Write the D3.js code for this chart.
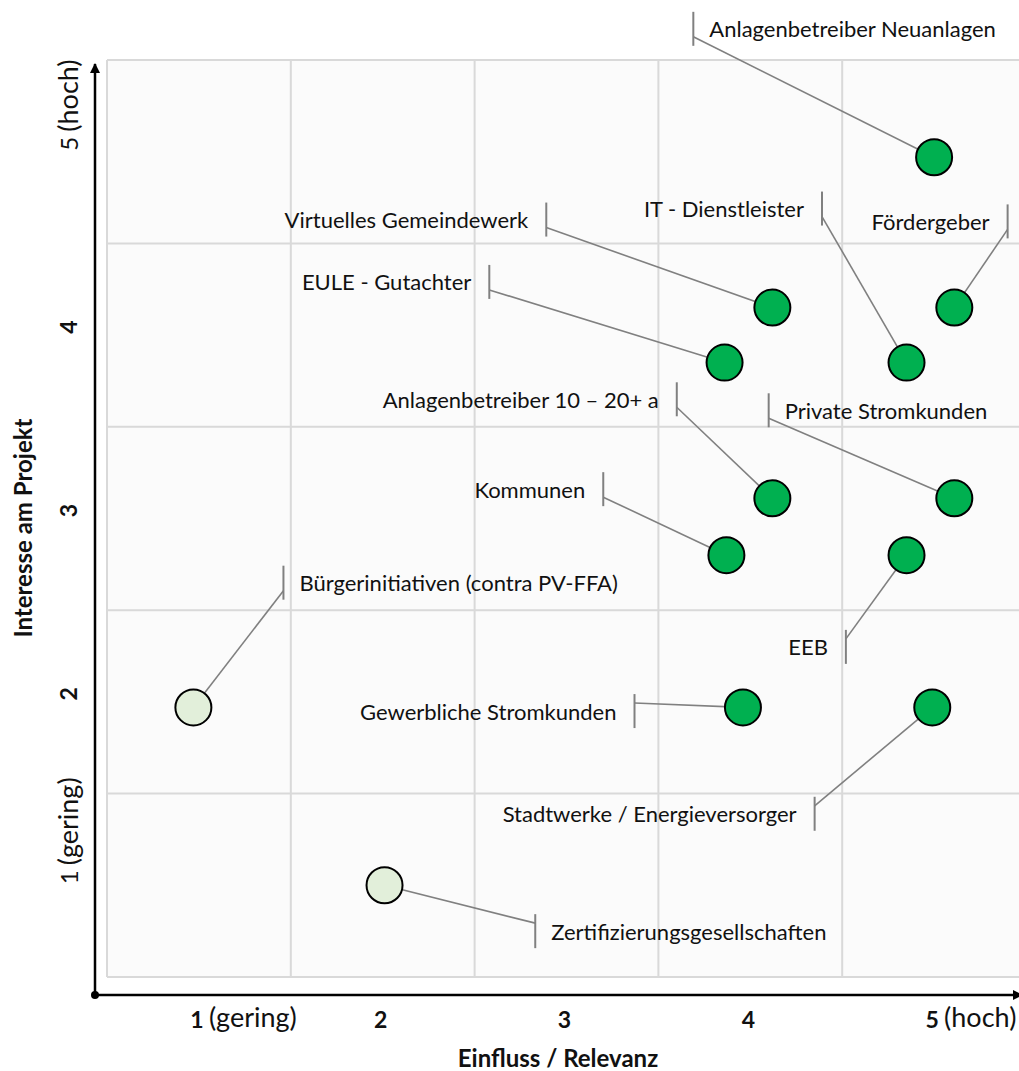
<!DOCTYPE html>
<html>
<head>
<meta charset="utf-8">
<script src="https://cdn.jsdelivr.net/npm/d3@7"></script>
<style>
  html, body { margin: 0; padding: 0; background: #ffffff; }
  svg { display: block; }
  text { font-family: Lato, "Open Sans", sans-serif; fill: #111111; }
</style>
</head>
<body>
<div id="chart"></div>
<script>
// ---- data ----
const categories = [
  "Anlagenbetreiber Neuanlagen",
  "Virtuelles Gemeindewerk",
  "EULE - Gutachter",
  "IT - Dienstleister",
  "Fördergeber",
  "Anlagenbetreiber 10 – 20+ a",
  "Private Stromkunden",
  "Kommunen",
  "Bürgerinitiativen (contra PV-FFA)",
  "EEB",
  "Gewerbliche Stromkunden",
  "Stadtwerke / Energieversorger",
  "Zertifizierungsgesellschaften"
];
const influence = [5.00, 4.12, 3.86, 4.85, 5.11, 4.12, 5.11, 3.87, 0.97, 4.85, 3.96, 4.99, 2.01];
const interest  = [4.97, 4.15, 3.85, 3.85, 4.15, 3.11, 3.11, 2.80, 1.97, 2.80, 1.97, 1.97, 1.00];
const supportive = [true, true, true, true, true, true, true, true, false, true, true, true, false];
// label anchor (callout bar) in data units, and which side of the bar the text sits
const labelInfluence = [3.69, 2.89, 2.58, 4.39, 5.40, 3.60, 4.10, 3.20, 1.46, 4.52, 3.37, 4.35, 2.83];
const labelInterest  = [5.67, 4.63, 4.29, 4.69, 4.62, 3.65, 3.59, 3.16, 2.65, 2.30, 1.95, 1.39, 0.75];
const labelSide = ["right", "left", "left", "left", "left", "left", "right", "left", "right", "left", "left", "left", "right"];

const xTicks = [1, 2, 3, 4, 5];
const xTickSuffix = ["(gering)", "", "", "", "(hoch)"];
const yTicks = [1, 2, 3, 4, 5];
const yTickSuffix = ["(gering)", "", "", "", "(hoch)"];
const xTitle = "Einfluss / Relevanz";
const yTitle = "Interesse am Projekt";

// ---- layout ----
const W = 1019, H = 1071;
const svg = d3.select("#chart").append("svg").attr("width", W).attr("height", H);

const x = d3.scaleLinear().domain([0.5, 5.5]).range([107, 1026]);
const y = d3.scaleLinear().domain([0.5, 5.5]).range([977, 60]);

const axisX0 = 95, axisY0 = 995;

// plot background
svg.append("rect")
  .attr("x", x(0.5)).attr("y", y(5.5))
  .attr("width", x(5.5) - x(0.5)).attr("height", y(0.5) - y(5.5))
  .attr("fill", "#fbfbfb");

// grid
const bounds = d3.range(0.5, 5.6, 1);
svg.append("g").selectAll("line").data(bounds).join("line")
  .attr("x1", d => x(d)).attr("x2", d => x(d))
  .attr("y1", y(5.5)).attr("y2", y(0.5))
  .attr("stroke", "#d9d9d9").attr("stroke-width", 2);
svg.append("g").selectAll("line").data(bounds).join("line")
  .attr("y1", d => y(d)).attr("y2", d => y(d))
  .attr("x1", x(0.5)).attr("x2", x(5.5))
  .attr("stroke", "#d9d9d9").attr("stroke-width", 2);

// axes with arrows
const defs = svg.append("defs");
defs.append("marker").attr("id", "arrow")
  .attr("viewBox", "0 0 10 10").attr("refX", 9).attr("refY", 5)
  .attr("markerWidth", 4).attr("markerHeight", 4).attr("orient", "auto")
  .append("path").attr("d", "M0,0 L10,5 L0,10 Z").attr("fill", "#000");

svg.append("line").attr("x1", axisX0).attr("y1", axisY0).attr("x2", axisX0).attr("y2", 64)
  .attr("stroke", "#000").attr("stroke-width", 2.5).attr("marker-end", "url(#arrow)");
svg.append("line").attr("x1", axisX0).attr("y1", axisY0).attr("x2", 1022).attr("y2", axisY0)
  .attr("stroke", "#000").attr("stroke-width", 2.5).attr("marker-end", "url(#arrow)");
svg.append("circle").attr("cx", axisX0).attr("cy", axisY0).attr("r", 4).attr("fill", "#000");

// x tick labels
const xt = svg.append("g");
xTicks.forEach((t, i) => {
  xt.append("text").attr("x", x(t) - 2).attr("y", 1019)
    .attr("text-anchor", "middle").attr("dominant-baseline", "central")
    .attr("font-size", 23).attr("font-weight", "bold").text(t);
  if (xTickSuffix[i]) {
    xt.append("text").attr("x", x(t) + 10).attr("y", 1016)
      .attr("text-anchor", "start").attr("dominant-baseline", "central")
      .attr("font-size", 27).text(xTickSuffix[i]);
  }
});

// y tick labels (rotated)
yTicks.forEach((t, i) => {
  const g = svg.append("g").attr("transform", `translate(68,${y(t) - 8}) rotate(-90)`);
  g.append("text").attr("x", 0).attr("y", 0)
    .attr("text-anchor", "middle").attr("dominant-baseline", "central")
    .attr("font-size", yTickSuffix[i] ? 24 : 23)
    .attr("font-weight", yTickSuffix[i] ? "normal" : "bold").text(t);
  if (yTickSuffix[i]) {
    g.append("text").attr("x", 12).attr("y", -1)
      .attr("text-anchor", "start").attr("dominant-baseline", "central")
      .attr("font-size", 27).text(yTickSuffix[i]);
  }
});

// axis titles
svg.append("text").attr("x", 558).attr("y", 1057)
  .attr("text-anchor", "middle").attr("dominant-baseline", "central")
  .attr("font-size", 24).attr("font-weight", "bold").text(xTitle);
svg.append("text").attr("transform", `translate(22,528) rotate(-90)`)
  .attr("text-anchor", "middle").attr("dominant-baseline", "central")
  .attr("font-size", 24).attr("font-weight", "bold").text(yTitle);

// data table
const data = categories.map((c, i) => ({
  name: c, ix: influence[i], iy: interest[i], pro: supportive[i],
  lx: labelInfluence[i], ly: labelInterest[i], side: labelSide[i]
}));

// callouts
const callouts = svg.append("g");
data.forEach(d => {
  const bx = x(d.lx), by = y(d.ly);
  const px = x(d.ix), py = y(d.iy);
  const attachY = by + (py > by ? 8 : -8);
  callouts.append("line").attr("x1", bx).attr("y1", attachY).attr("x2", px).attr("y2", py)
    .attr("stroke", "#808080").attr("stroke-width", 1.6);
  callouts.append("line").attr("x1", bx).attr("x2", bx).attr("y1", by - 17).attr("y2", by + 17)
    .attr("stroke", "#808080").attr("stroke-width", 2);
  callouts.append("text")
    .attr("x", d.side === "right" ? bx + 16 : bx - 18)
    .attr("y", by)
    .attr("text-anchor", d.side === "right" ? "start" : "end")
    .attr("dominant-baseline", "central")
    .attr("font-size", 22)
    .text(d.name);
});

// bubbles
svg.append("g").selectAll("circle").data(data).join("circle")
  .attr("cx", d => x(d.ix)).attr("cy", d => y(d.iy)).attr("r", 18)
  .attr("fill", d => d.pro ? "#00b050" : "#e2efda")
  .attr("stroke", "#000").attr("stroke-width", 2);
</script>
</body>
</html>
